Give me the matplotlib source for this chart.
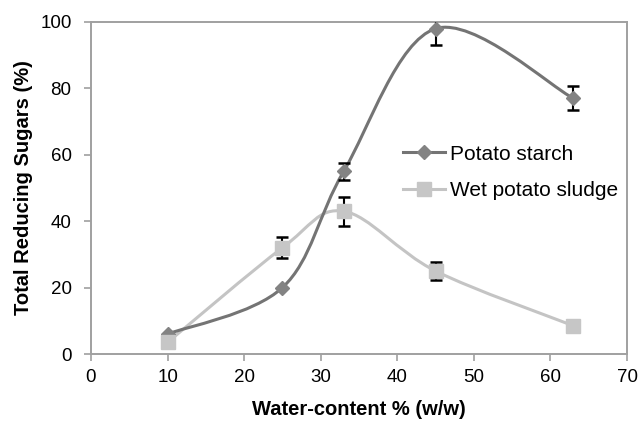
import numpy as np
import matplotlib
matplotlib.use("Agg")
import matplotlib.pyplot as plt
from matplotlib.path import Path
from matplotlib.patches import PathPatch

plt.rcParams['font.family'] = ['Liberation Sans', 'DejaVu Sans']

water = [10, 25, 33, 45, 63]
starch = [6.0, 20.0, 55.0, 98.0, 77.0]
starch_err = [0.0, 0.0, 2.6, 5.0, 3.6]
sludge = [3.5, 32.0, 43.0, 25.0, 8.5]
sludge_err = [0.0, 3.2, 4.3, 2.7, 0.0]

x_ticks = [0, 10, 20, 30, 40, 50, 60, 70]
y_ticks = [0, 20, 40, 60, 80, 100]

fig = plt.figure(figsize=(6.38, 4.23), dpi=100)
ax = fig.add_axes([91/638, 1-354/423, (627-91)/638, (354-22)/423])


def smooth_path(xs, ys):
    """Excel-style smoothed line: cubic Bezier through the points."""
    pts = np.column_stack([xs, ys]).astype(float)
    n = len(pts)
    verts = [pts[0]]
    codes = [Path.MOVETO]
    for i in range(n - 1):
        p0 = pts[i - 1] if i > 0 else pts[i]
        p1 = pts[i]
        p2 = pts[i + 1]
        p3 = pts[i + 2] if i + 2 < n else pts[i + 1]
        c1 = p1 + (p2 - p0) / 6.0
        c2 = p2 - (p3 - p1) / 6.0
        verts += [c1, c2, p2]
        codes += [Path.CURVE4] * 3
    return Path(verts, codes)


c_starch_line = '#747474'
c_starch_mk = '#838383'
c_sludge_line = '#c4c4c4'
c_sludge_mk = '#c6c6c6'

for xs, ys, col in [(water, sludge, c_sludge_line), (water, starch, c_starch_line)]:
    ax.add_patch(PathPatch(smooth_path(xs, ys), fill=False, edgecolor=col,
                           lw=2.2, zorder=2, capstyle='round'))

ax.errorbar(water, starch, yerr=starch_err, fmt='none', ecolor='black',
            elinewidth=1.5, capsize=4.5, capthick=1.8, zorder=3)
ax.errorbar(water, sludge, yerr=sludge_err, fmt='none', ecolor='black',
            elinewidth=1.5, capsize=4.5, capthick=1.8, zorder=3)

ax.plot(water, starch, linestyle='none', marker='D', ms=7.5,
        color=c_starch_mk, mec=c_starch_mk, zorder=4)
ax.plot(water, sludge, linestyle='none', marker='s', ms=10,
        color=c_sludge_mk, mec=c_sludge_mk, zorder=4)

# legend proxies
h1, = ax.plot([], [], color=c_starch_line, lw=2.2, marker='D', ms=7.5,
              mfc=c_starch_mk, mec=c_starch_mk)
h2, = ax.plot([], [], color=c_sludge_line, lw=2.2, marker='s', ms=10,
              mfc=c_sludge_mk, mec=c_sludge_mk)
ax.legend([h1, h2], ['Potato starch', 'Wet potato sludge'],
          loc='center left', bbox_to_anchor=(0.582, 0.547), frameon=False,
          fontsize=15, handlelength=2.0, handletextpad=0.25,
          labelspacing=0.85, borderpad=0, borderaxespad=0)

ax.set_xlim(0, 70)
ax.set_ylim(0, 100)
ax.set_xticks(x_ticks)
ax.set_yticks(y_ticks)
ax.tick_params(axis='both', direction='out', length=5, width=1.2,
               color='#a0a0a0', labelsize=13.5)
ax.tick_params(axis='y', pad=9)
ax.tick_params(axis='x', pad=6)
for s in ax.spines.values():
    s.set_color('#a0a0a0')
    s.set_linewidth(1.4)

ax.set_xlabel('Water-content % (w/w)', fontsize=14.5, fontweight='bold',
              labelpad=10)
ax.set_ylabel('Total Reducing Sugars (%)', fontsize=14.5, fontweight='bold',
              labelpad=5)

fig.savefig('out.png', dpi=100)
